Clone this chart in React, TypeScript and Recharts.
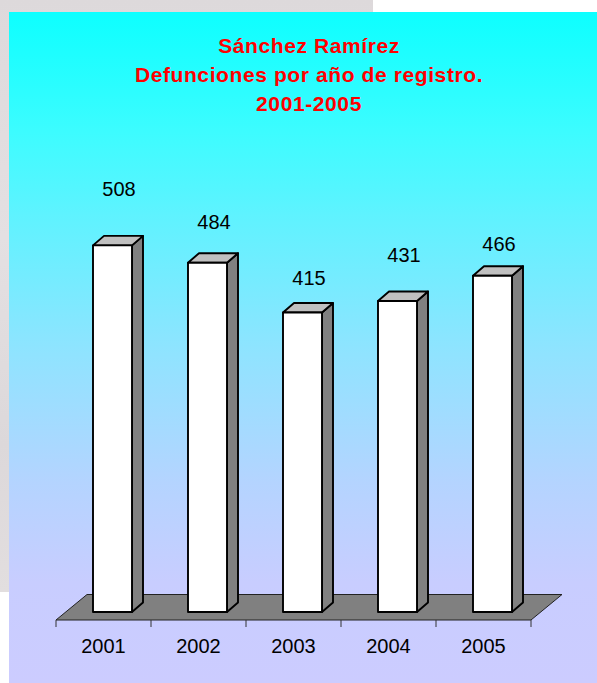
import React from "react";
import { BarChart, Bar, XAxis, YAxis, LabelList } from "recharts";

// datos del gráfico
const years = ["2001", "2002", "2003", "2004", "2005"];
const deaths = [508, 484, 415, 431, 466];
const titleLines = [
  "Sánchez Ramírez",
  "Defunciones por año de registro.",
  "2001-2005",
];
// ajuste vertical de cada etiqueta de valor (como en el original)
const labelLift = [56, 41, 35, 46, 32];

const data = years.map((year, i) => ({ year, deaths: deaths[i] }));

const W = 597;
const H = 683;
const margin = { top: 187, right: 66, bottom: 23, left: 56 };
const AXIS_H = 40;
const PLOT_L = margin.left;
const PLOT_R = W - margin.right;
const PLOT_B = H - margin.bottom - AXIS_H;
const BAND = (PLOT_R - PLOT_L) / years.length;

// desplazamiento 3D
const SX = 9; // barras metidas en el piso
const SY = -8;
const DX = 11; // profundidad de la barra
const DY = -9.5;
const FLOOR_DX = 31;
const FLOOR_DY = -25.5;

const FONT = "'Liberation Sans', Arial, sans-serif";

const Bar3D = (props: any) => {
  const { x, y, width, height } = props;
  const fx = x + SX;
  const fy = y + SY;
  const side = `${fx + width},${fy} ${fx + width + DX},${fy + DY} ${fx + width + DX},${fy + height + DY} ${fx + width},${fy + height}`;
  const top = `${fx},${fy} ${fx + DX},${fy + DY} ${fx + width + DX},${fy + DY} ${fx + width},${fy}`;
  return (
    <g stroke="#000" strokeWidth={1.9} strokeLinejoin="round">
      <polygon points={side} fill="#808080" />
      <polygon points={top} fill="#c0c0c0" />
      <rect x={fx} y={fy} width={width} height={height} fill="#ffffff" />
    </g>
  );
};

const ValueLabel = (props: any) => {
  const { x, y, width, value, index } = props;
  const cx = x + SX + width / 2 + DX / 2 + 1;
  const cy = y + SY - labelLift[index];
  return (
    <text x={cx} y={cy + 7} textAnchor="middle" fontFamily={FONT} fontSize={20} fill="#000">
      {value}
    </text>
  );
};

const YearTick = (props: any) => {
  const { x, y, payload, index } = props;
  const half = BAND / 2;
  return (
    <g>
      <line x1={x - half} y1={y} x2={x - half} y2={y + 7} stroke="#333" strokeWidth={1} />
      {index === years.length - 1 && (
        <line x1={x + half} y1={y} x2={x + half} y2={y + 7} stroke="#333" strokeWidth={1} />
      )}
      <text x={x} y={y + 33} textAnchor="middle" fontFamily={FONT} fontSize={20} fill="#000">
        {payload.value}
      </text>
    </g>
  );
};

export default function App() {
  const floor = `${PLOT_L},${PLOT_B} ${PLOT_R},${PLOT_B} ${PLOT_R + FLOOR_DX},${PLOT_B + FLOOR_DY} ${PLOT_L + FLOOR_DX},${PLOT_B + FLOOR_DY}`;
  return (
    <div style={{ position: "absolute", left: 0, top: 0, width: W, height: H, background: "#fff", overflow: "hidden" }}>
      <div
        style={{
          position: "absolute",
          left: 0,
          top: 0,
          width: 373,
          height: 592,
          background: "linear-gradient(to bottom, #ddd9db, #e4e0e2 40%, #dcd8da 75%, #e2dedf)",
        }}
      />
      <div
        style={{
          position: "absolute",
          left: 9,
          top: 12,
          width: W - 9,
          height: H - 12,
          background:
            "linear-gradient(to bottom, #0dffff 0%, #3dfcff 18%, #5ef3ff 30%, #8ee4ff 50%, #b4d4ff 70%, #c8cdff 85%, #ccccff 100%)",
        }}
      />
      <svg width={W} height={H} style={{ position: "absolute", left: 0, top: 0 }}>
        {titleLines.map((t, i) => (
          <text
            key={t}
            x={309}
            y={52.7 + i * 29}
            textAnchor="middle"
            fontFamily={FONT}
            fontWeight="bold"
            fontSize={21}
            letterSpacing={0.6}
            fill="#ff0000"
          >
            {t}
          </text>
        ))}
        <polygon points={floor} fill="#808080" stroke="#222" strokeWidth={1} />
      </svg>
      <div style={{ position: "absolute", left: 0, top: 0 }}>
        <BarChart width={W} height={H} data={data} margin={margin}>
          <XAxis
            dataKey="year"
            height={AXIS_H}
            axisLine={false}
            tickLine={false}
            tickSize={0}
            tickMargin={0}
            interval={0}
            tick={<YearTick />}
          />
          <YAxis hide domain={[0, 600]} />
          <Bar dataKey="deaths" barSize={39} shape={<Bar3D />} isAnimationActive={false}>
            <LabelList dataKey="deaths" content={<ValueLabel />} />
          </Bar>
        </BarChart>
      </div>
    </div>
  );
}
